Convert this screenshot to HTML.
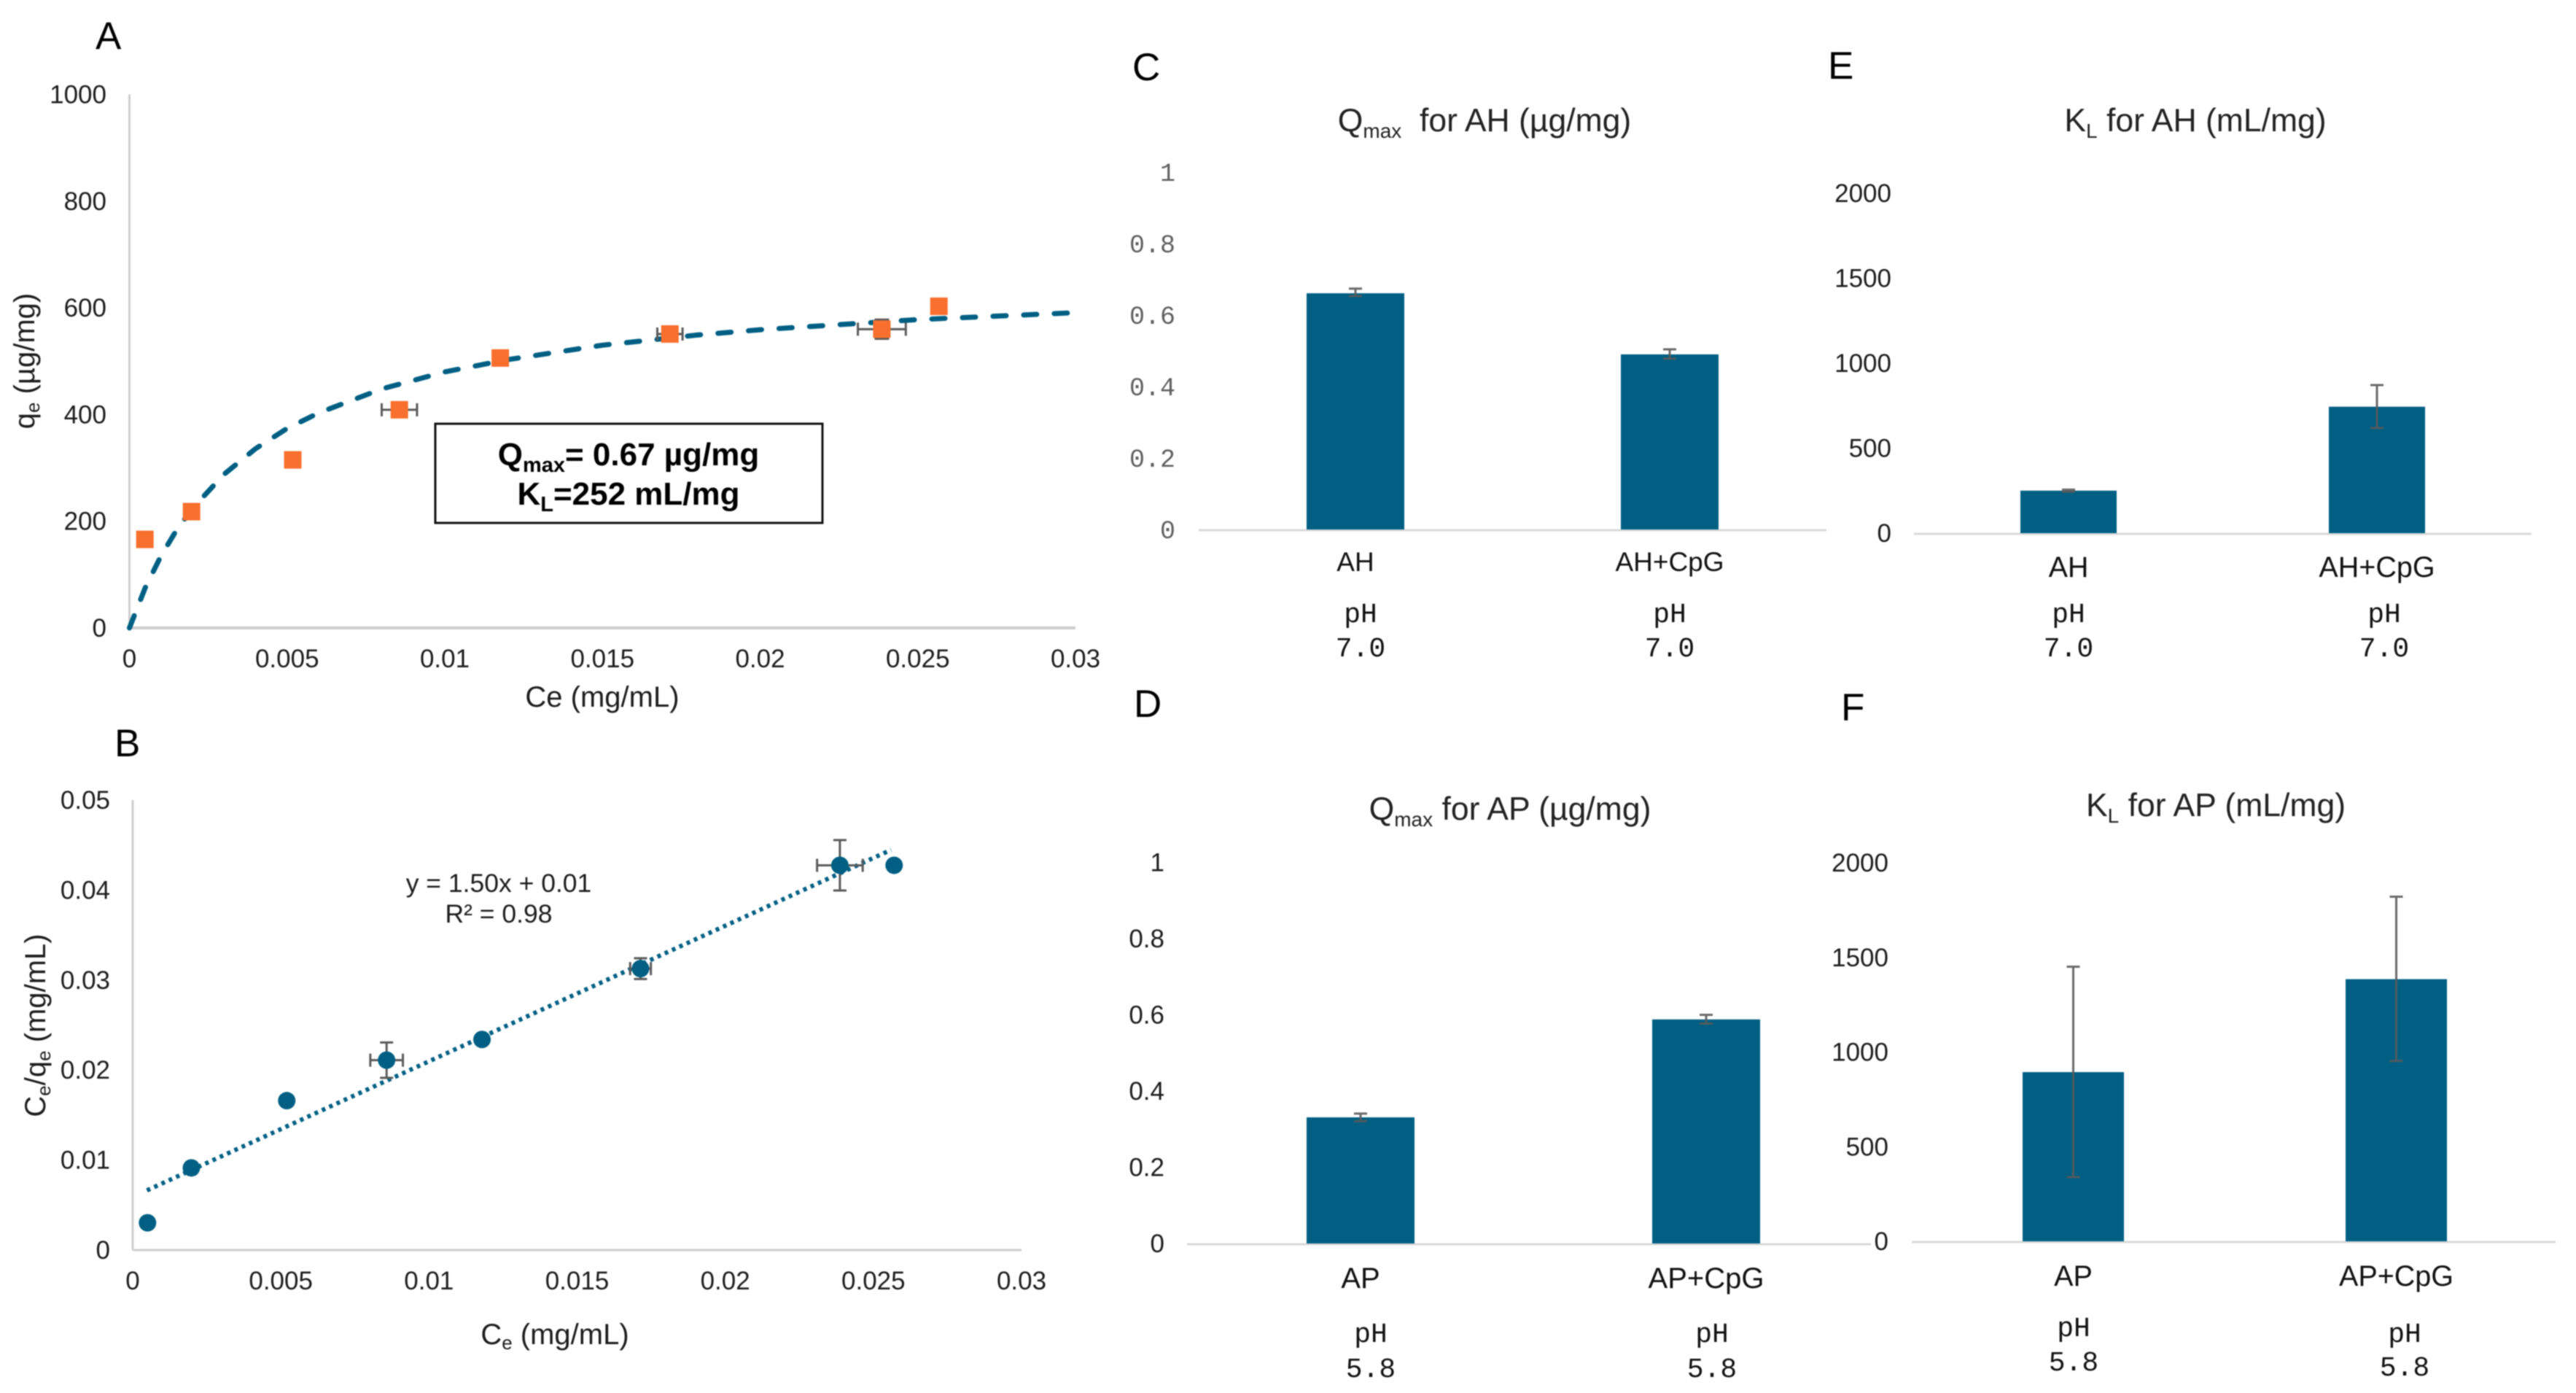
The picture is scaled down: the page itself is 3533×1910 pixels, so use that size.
<!DOCTYPE html>
<html lang="en">
<head>
<meta charset="utf-8">
<title>Adsorption isotherms and Langmuir parameters</title>
<style>
html,body{margin:0;padding:0;background:#fff;width:3533px;height:1910px;overflow:hidden}
svg{display:block;filter:blur(0.8px)}
text{font-family:"Liberation Sans",Arial,sans-serif;fill:#1c1c1c}
.mono{font-family:"Liberation Mono",monospace}
.panel{font-size:53px;fill:#000}
.tick{font-size:35px}
.axt{font-size:40px}
.ttl{font-size:44.5px;fill:#222}
.cat{font-size:37px;fill:#111}
.ph{font-size:38px;fill:#111;font-family:"Liberation Mono",monospace}
</style>
</head>
<body>
<svg id="figure" xmlns="http://www.w3.org/2000/svg" width="3533" height="1910" viewBox="0 0 3533 1910">
<rect width="3533" height="1910" fill="#fff"/>

<!-- Panel letters -->
<text class="panel" x="131" y="67">A</text>
<text class="panel" x="157" y="1037">B</text>
<text class="panel" x="1553" y="110">C</text>
<text class="panel" x="1555" y="983">D</text>
<text class="panel" x="2507" y="108">E</text>
<text class="panel" x="2525" y="988">F</text>

<g id="chart-a"></g>
<g id="chart-b"></g>
<g id="chart-c"></g>
<g id="chart-d"></g>
<g id="chart-e"></g>
<g id="chart-f"></g>

<!-- Panel A text -->
<text class="axt" x="826" y="969" text-anchor="middle">Ce (mg/mL)</text>
<text class="axt" transform="translate(47 495) rotate(-90)" text-anchor="middle">q<tspan font-size="26" dy="7">e</tspan><tspan dy="-7"> (µg/mg)</tspan></text>
<rect x="597" y="581" width="531" height="136" fill="#fff" stroke="#111" stroke-width="3"/>
<text x="862" y="638" text-anchor="middle" font-size="44" font-weight="bold" style="fill:#000">Q<tspan font-size="29" dy="9">max</tspan><tspan dy="-9">= 0.67 µg/mg</tspan></text>
<text x="862" y="692" text-anchor="middle" font-size="44" font-weight="bold" style="fill:#000">K<tspan font-size="29" dy="9">L</tspan><tspan dy="-9">=252 mL/mg</tspan></text>

<!-- Panel B text -->
<text class="axt" x="761" y="1843" text-anchor="middle">C<tspan font-size="26" dy="7">e</tspan><tspan dy="-7"> (mg/mL)</tspan></text>
<text class="axt" transform="translate(62 1406) rotate(-90)" text-anchor="middle">C<tspan font-size="26" dy="7">e</tspan><tspan dy="-7">/q</tspan><tspan font-size="26" dy="7">e</tspan><tspan dy="-7"> (mg/mL)</tspan></text>
<text x="684" y="1223" text-anchor="middle" font-size="35.5">y = 1.50x + 0.01</text>
<text x="684" y="1265" text-anchor="middle" font-size="35.5">R² = 0.98</text>

<!-- Bar chart titles -->
<text class="ttl" x="2036" y="180" text-anchor="middle">Q<tspan font-size="28" dy="9">max</tspan><tspan dy="-9">&#160; for AH (µg/mg)</tspan></text>
<text class="ttl" x="2071" y="1124" text-anchor="middle">Q<tspan font-size="28" dy="9">max</tspan><tspan dy="-9"> for AP (µg/mg)</tspan></text>
<text class="ttl" x="3011" y="180" text-anchor="middle">K<tspan font-size="28" dy="9">L</tspan><tspan dy="-9"> for AH (mL/mg)</tspan></text>
<text class="ttl" x="3039" y="1119" text-anchor="middle">K<tspan font-size="28" dy="9">L</tspan><tspan dy="-9"> for AP (mL/mg)</tspan></text>

<!-- pH labels -->
<text class="ph" x="1866" y="853" text-anchor="middle">pH</text>
<text class="ph" x="1866" y="900" text-anchor="middle">7.0</text>
<text class="ph" x="2290" y="853" text-anchor="middle">pH</text>
<text class="ph" x="2290" y="900" text-anchor="middle">7.0</text>
<text class="ph" x="2837" y="853" text-anchor="middle">pH</text>
<text class="ph" x="2837" y="900" text-anchor="middle">7.0</text>
<text class="ph" x="3270" y="853" text-anchor="middle">pH</text>
<text class="ph" x="3270" y="900" text-anchor="middle">7.0</text>
<text class="ph" x="1880" y="1840" text-anchor="middle">pH</text>
<text class="ph" x="1880" y="1888" text-anchor="middle">5.8</text>
<text class="ph" x="2348" y="1840" text-anchor="middle">pH</text>
<text class="ph" x="2348" y="1888" text-anchor="middle">5.8</text>
<text class="ph" x="2844" y="1832" text-anchor="middle">pH</text>
<text class="ph" x="2844" y="1879" text-anchor="middle">5.8</text>
<text class="ph" x="3298" y="1840" text-anchor="middle">pH</text>
<text class="ph" x="3298" y="1886" text-anchor="middle">5.8</text>
</svg>

<script>
// ---------- Panel A data ----------
const aCe = [0.00049, 0.00197, 0.00518, 0.00856, 0.01176, 0.01714, 0.02386, 0.02567];
const aQe = [166, 218, 315, 409, 506, 551, 560, 603];
const aCeErr = [0, 0, 0, 0.00056, 0, 0.0004, 0.00076, 0];
const aQeErr = [0, 0, 0, 0, 0, 0, 18, 0];
const aCurveCe = [0, 0.0005, 0.001, 0.0015, 0.002, 0.003, 0.004, 0.005, 0.006, 0.008, 0.01, 0.012, 0.015, 0.018, 0.02, 0.025, 0.03];
const aCurveQe = [0, 75, 135, 184, 224, 288, 336, 374, 403, 448, 480, 503, 530, 549, 559, 578, 591];
const aXTicks = [0, 0.005, 0.01, 0.015, 0.02, 0.025, 0.03];
const aYTicks = [0, 200, 400, 600, 800, 1000];

// ---------- Panel B data ----------
const bCe = [0.0005, 0.00198, 0.0052, 0.00857, 0.01179, 0.01714, 0.02387, 0.0257];
const bRatio = [0.00303, 0.00913, 0.0166, 0.0211, 0.0234, 0.03127, 0.04275, 0.04275];
const bCeErr = [0, 0, 0, 0.00055, 0, 0.00035, 0.00077, 0];
const bRatioErr = [0, 0, 0, 0.00197, 0, 0.00115, 0.0028, 0];
const bTrendCe = [0.00048, 0.0256];
const bTrendRatio = [0.00663, 0.04447];
const bXTicks = [0, 0.005, 0.01, 0.015, 0.02, 0.025, 0.03];
const bYTicks = [0, 0.01, 0.02, 0.03, 0.04, 0.05];

// ---------- Bar chart data ----------
const cCategories = ['AH', 'AH+CpG'];
const cValues = [0.661, 0.49];
const cErrHigh = [0.674, 0.504];
const cErrLow = [0.653, 0.478];
const cTicks = [0, 0.2, 0.4, 0.6, 0.8, 1];

const dCategories = ['AP', 'AP+CpG'];
const dValues = [0.331, 0.588];
const dErrHigh = [0.341, 0.6];
const dErrLow = [0.321, 0.577];
const dTicks = [0, 0.2, 0.4, 0.6, 0.8, 1];

const eCategories = ['AH', 'AH+CpG'];
const eValues = [250, 744];
const eErrHigh = [256, 871];
const eErrLow = [244, 619];
const eTicks = [0, 500, 1000, 1500, 2000];

const fCategories = ['AP', 'AP+CpG'];
const fValues = [894, 1385];
const fErrHigh = [1451, 1821];
const fErrLow = [339, 953];
const fTicks = [0, 500, 1000, 1500, 2000];

// ---------- Helpers ----------
const NS = 'http://www.w3.org/2000/svg';
const TEAL = '#005f83';
const ORANGE = '#f96f2e';
const ERR = '#5a5a5a';
const AXIS = '#cdcdcd';

function svgEl(parent, tag, props, text) {
  const el = document.createElementNS(NS, tag);
  for (const k in props) el.setAttribute(k, props[k]);
  if (text !== undefined) el.textContent = text;
  parent.appendChild(el);
  return el;
}
function linear(d0, d1, r0, r1) {
  return v => r0 + (v - d0) / (d1 - d0) * (r1 - r0);
}

// ---------- Panel A ----------
(function () {
  const g = document.getElementById('chart-a');
  const x = linear(0, 0.03, 177.5, 1475);
  const y = linear(0, 1000, 861, 129.5);

  const yAxis = svgEl(g, 'line', {x1: x(0), x2: x(0), y1: y(1000), y2: y(0), stroke: AXIS, 'stroke-width': 3});
  
  
  const xAxis = svgEl(g, 'line', {x1: x(0), x2: x(0.03), y1: y(0), y2: y(0), stroke: AXIS, 'stroke-width': 4});
  
  

  aXTicks.forEach(t => {
    const lab = svgEl(g, 'text', {class: 'tick', x: x(t), y: 915, 'text-anchor': 'middle'}, String(t));
    
    
  });
  aYTicks.forEach(t => {
    const lab = svgEl(g, 'text', {class: 'tick', x: 146, y: y(t) + 12, 'text-anchor': 'end'}, String(t));
    
    
  });

  const pts = aCurveCe.map((c, i) => x(c).toFixed(1) + ',' + y(aCurveQe[i]).toFixed(1)).join(' ');
  const curve = svgEl(g, 'polyline', {points: pts, fill: 'none', stroke: TEAL, 'stroke-width': 7, 'stroke-dasharray': '18 24', 'stroke-linecap': 'round', 'stroke-linejoin': 'round'});
  
  

  aCe.forEach((c, i) => {
    const px = x(c), py = y(aQe[i]);
    if (aCeErr[i] > 0) {
      const x0 = x(c - aCeErr[i]), x1 = x(c + aCeErr[i]);
      const eb = svgEl(g, 'path', {d: `M${x0} ${py}H${x1}M${x0} ${py - 9}V${py + 9}M${x1} ${py - 9}V${py + 9}`, fill: 'none', stroke: ERR, 'stroke-width': 3});
      
      
    }
    if (aQeErr[i] > 0) {
      const y0 = y(aQe[i] - aQeErr[i]), y1 = y(aQe[i] + aQeErr[i]);
      const eb = svgEl(g, 'path', {d: `M${px} ${y0}V${y1}M${px - 10} ${y0}H${px + 10}M${px - 10} ${y1}H${px + 10}`, fill: 'none', stroke: ERR, 'stroke-width': 3});
      
      
    }
    const pt = svgEl(g, 'rect', {x: px - 12, y: py - 12, width: 24, height: 24, fill: ORANGE});
    
    
  });
})();

// ---------- Panel B ----------
(function () {
  const g = document.getElementById('chart-b');
  const x = linear(0, 0.03, 182, 1401);
  const y = linear(0, 0.05, 1714, 1097);

  const yAxis = svgEl(g, 'line', {x1: x(0), x2: x(0), y1: y(0.05), y2: y(0), stroke: AXIS, 'stroke-width': 3});
  
  
  const xAxis = svgEl(g, 'line', {x1: x(0), x2: x(0.03), y1: y(0), y2: y(0), stroke: AXIS, 'stroke-width': 3});
  
  

  bXTicks.forEach(t => {
    const lab = svgEl(g, 'text', {class: 'tick', x: x(t), y: 1768, 'text-anchor': 'middle'}, String(t));
    
    
  });
  bYTicks.forEach(t => {
    const lab = svgEl(g, 'text', {class: 'tick', x: 151, y: y(t) + 12, 'text-anchor': 'end'}, String(t));
    
    
  });

  const trend = svgEl(g, 'line', {x1: x(bTrendCe[0]), y1: y(bTrendRatio[0]), x2: x(bTrendCe[1]), y2: y(bTrendRatio[1]), stroke: TEAL, 'stroke-width': 6, 'stroke-dasharray': '5 6'});
  
  

  bCe.forEach((c, i) => {
    const px = x(c), py = y(bRatio[i]);
    if (bCeErr[i] > 0) {
      const x0 = x(c - bCeErr[i]), x1 = x(c + bCeErr[i]);
      const eb = svgEl(g, 'path', {d: `M${x0} ${py}H${x1}M${x0} ${py - 9}V${py + 9}M${x1} ${py - 9}V${py + 9}`, fill: 'none', stroke: ERR, 'stroke-width': 3});
      
      
    }
    if (bRatioErr[i] > 0) {
      const y0 = y(bRatio[i] - bRatioErr[i]), y1 = y(bRatio[i] + bRatioErr[i]);
      const eb = svgEl(g, 'path', {d: `M${px} ${y0}V${y1}M${px - 9} ${y0}H${px + 9}M${px - 9} ${y1}H${px + 9}`, fill: 'none', stroke: ERR, 'stroke-width': 3});
      
      
    }
    const pt = svgEl(g, 'circle', {cx: px, cy: py, r: 12, fill: TEAL});
    
    
  });
})();

// ---------- Bar charts ----------
function drawBars(id, categories, values, errHigh, errLow, ticks, o) {
  const g = document.getElementById(id);
  const y = linear(0, ticks[ticks.length - 1], o.base, o.top);
  const x = i => o.first + i * o.step;

  const axis = svgEl(g, 'line', {x1: o.axisL, x2: o.axisR, y1: o.base + 1, y2: o.base + 1, stroke: '#d9d9d9', 'stroke-width': 3});
  
  

  ticks.forEach(t => {
    const lab = svgEl(g, 'text', {class: 'tick' + (o.mono ? ' mono' : ''), x: o.tickR, y: y(t) + 12, 'text-anchor': 'end'}, String(t));
    if (o.mono) lab.style.fill = '#5f5f5f';
    
    
  });

  categories.forEach((c, i) => {
    const cx = x(i);
    const bar = svgEl(g, 'rect', {x: cx - o.barW / 2, y: y(values[i]), width: o.barW, height: o.base - y(values[i]), fill: TEAL});
    
    

    const y0 = y(errLow[i]), y1 = y(errHigh[i]);
    const eb = svgEl(g, 'path', {d: `M${cx} ${y0}V${y1}M${cx - 9} ${y1}H${cx + 9}M${cx - 9} ${y0}H${cx + 9}`, fill: 'none', stroke: ERR, 'stroke-width': 3, opacity: 0.9});
    
    

    const lab = svgEl(g, 'text', {class: 'cat', x: cx, y: o.catY, 'text-anchor': 'middle'}, c);
    lab.style.fontSize = o.catSize + 'px';
    
    
  });
}

drawBars('chart-c', cCategories, cValues, cErrHigh, cErrLow, cTicks,
  {base: 726, top: 236, first: 1859, step: 431, barW: 134, axisL: 1644, axisR: 2505, tickR: 1612, catY: 783, catSize: 37, mono: true});
drawBars('chart-d', dCategories, dValues, dErrHigh, dErrLow, dTicks,
  {base: 1705, top: 1182.5, first: 1866, step: 474, barW: 148, axisL: 1628, axisR: 2566, tickR: 1597, catY: 1766, catSize: 40, mono: false});
drawBars('chart-e', eCategories, eValues, eErrHigh, eErrLow, eTicks,
  {base: 731, top: 265, first: 2837, step: 423, barW: 132, axisL: 2625, axisR: 3472, tickR: 2594, catY: 791, catSize: 39.5, mono: false});
drawBars('chart-f', fCategories, fValues, fErrHigh, fErrLow, fTicks,
  {base: 1702, top: 1183, first: 2843.5, step: 443, barW: 139, axisL: 2622, axisR: 3505, tickR: 2590, catY: 1763, catSize: 39.5, mono: false});
</script>
</body>
</html>
